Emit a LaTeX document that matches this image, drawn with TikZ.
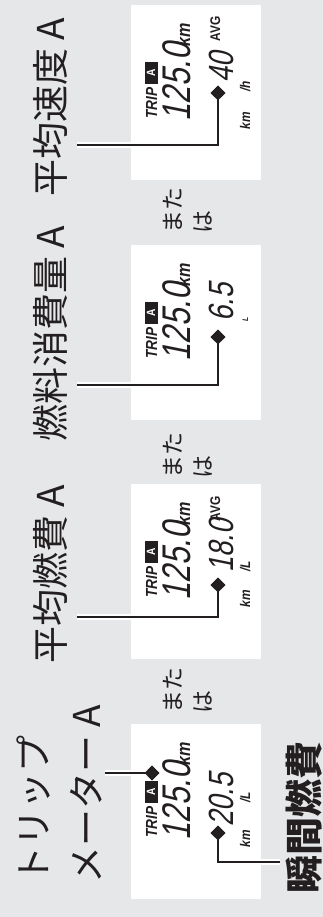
\documentclass[tikz,border=0pt]{standalone}
\usepackage{fontspec}
\usetikzlibrary{shapes.geometric}
\newfontfamily\jp{Noto Sans CJK JP}
\newfontfamily\lcd{Liberation Sans}[FakeSlant=0.2,FakeStretch=0.78]
\newfontfamily\sfb{Liberation Sans}[FakeStretch=0.85]
\definecolor{bg}{RGB}{230,231,233}
\definecolor{ink}{RGB}{35,31,32}

\begin{document}
\begin{tikzpicture}[x=1pt,y=-1pt,thick,
	panel/.style={fill=white,minimum width=130pt,minimum height=175pt,inner sep=0pt},
	seg/.style={rotate=90,anchor=base west,inner sep=0pt,text=ink},
	unit/.style={font=\sfb\bfseries\itshape\fontsize{14}{14}\selectfont},
	lbl/.style={rotate=90,anchor=west,inner sep=0pt,text=ink,
		font=\jp\fontsize{37}{53}\selectfont},
	orr/.style={rotate=90,anchor=west,inner sep=0pt,align=left,text=ink,
		font=\jp\fontsize{23}{30}\selectfont},
	tripbox/.style={rotate=90,fill=ink,text=white,inner sep=0pt,
		minimum width=22pt,minimum height=13pt,
		font=\sfb\bfseries\fontsize{12}{12}\selectfont},
	pointer/.style={diamond,fill=ink,inner sep=0pt,minimum width=15pt,minimum height=15pt},
	leader/.style={draw=ink,line width=2.8pt,preaction={draw=white,line width=6.5pt}},
]
	\fill[bg] (0,0) rectangle (323,917);
	\useasboundingbox (0,0) rectangle (323,917);

	% the four displays
	\foreach \y [count=\i] in {5,245,484,724}{
		\node[panel] (p\i) at (196,\y+87.5) {};
		\node[seg,font=\sfb\bfseries\itshape\fontsize{16}{16}\selectfont] (trip\i) at (157,\y+114) {TRIP};
		\node[tripbox] (a\i) at (151,\y+68) {A};
		\node[seg,font=\lcd\fontsize{40}{40}\selectfont] (odo\i) at (190,\y+117) {125.0};
		\node[seg,font=\sfb\bfseries\itshape\fontsize{19}{19}\selectfont] (km\i) at (190,\y+42) {km};
	}

	% lower rows
	\node[seg,font=\lcd\fontsize{35}{35}\selectfont] (v1) at (233,83) {40};
	\node[seg,font=\sfb\bfseries\fontsize{14}{14}\selectfont] (avg1) at (220,42) {AVG};
	\node[seg,unit] (per1) at (250,92) {/h};
	\node[seg,unit] (dist1) at (250,130) {km};

	\node[seg,font=\lcd\fontsize{35}{35}\selectfont] (v2) at (233,322) {6.5};
	\node[seg,font=\sfb\bfseries\itshape\fontsize{8}{8}\selectfont] (per2) at (248,322) {L};

	\node[seg,font=\lcd\fontsize{35}{35}\selectfont] (v3) at (233,573) {18.0};
	\node[seg,font=\sfb\bfseries\fontsize{14}{14}\selectfont] (avg3) at (220,522) {AVG};
	\node[seg,unit] (per3) at (250,572) {/L};
	\node[seg,unit] (dist3) at (250,608) {km};

	\node[seg,font=\lcd\fontsize{35}{35}\selectfont] (v4) at (233,827) {20.5};
	\node[seg,unit] (per4) at (250,803) {/L};
	\node[seg,unit] (dist4) at (250,848) {km};

	% labels
	\node[lbl] (speed) at (50.5,197) {平均速度 A};
	\node[lbl] (used) at (50.5,442) {燃料消費量 A};
	\node[lbl] (mean) at (50.5,664) {平均燃費 A};
	\node[lbl,align=left] (meter) at (59.5,884) {トリップ\\メーター A};
	\node[lbl,font=\jp\bfseries\fontsize{38}{38}\selectfont] (inst) at (304,894) {瞬間燃費};
	\foreach \y [count=\i] in {234,479,714}
		\node[orr] (or\i) at (188,\y) {また\\は};

	% pointers
	\coordinate (e1) at (77,145);
	\coordinate (e2) at (77,385);
	\coordinate (e3) at (77,617);
	\coordinate (e4) at (280,862);
	\coordinate (et) at (105,773);
	\node[pointer] (d1) at (218,93) {};
	\node[pointer] (d2) at (218,337) {};
	\node[pointer] (d3) at (218,585) {};
	\node[pointer] (d4) at (218,833) {};
	\node[pointer] (dt) at (152,773) {};
	\foreach \i in {1,...,4}{
		\draw[leader] (d\i.center) |- (e\i);
	}
	\draw[leader] (dt.center) -- (et);
	\foreach \i in {1,...,4}{
		\node[pointer] at (d\i) {};
	}
	\node[pointer] at (dt) {};
\end{tikzpicture}
\end{document}
